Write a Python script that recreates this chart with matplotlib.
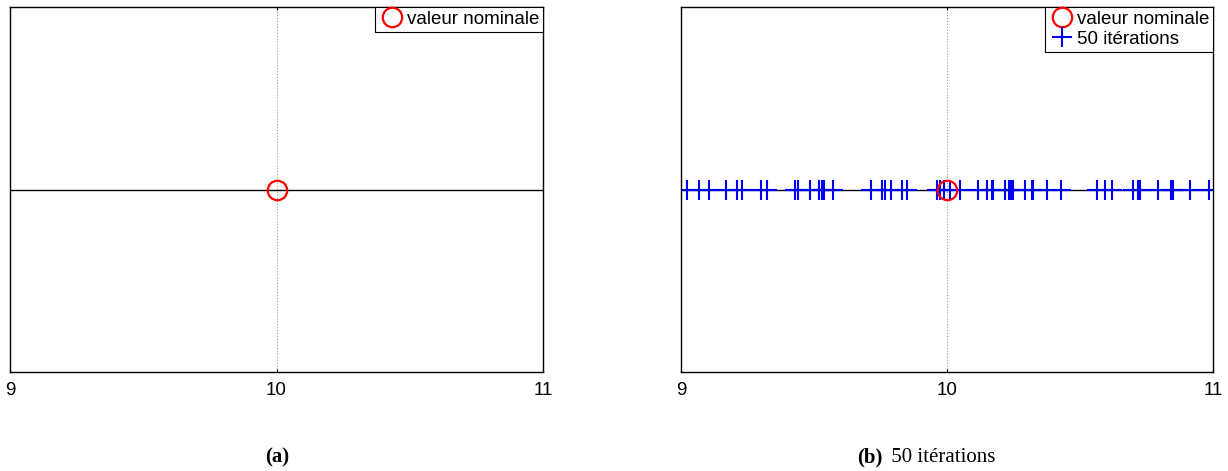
import matplotlib

matplotlib.use("Agg")
import matplotlib.pyplot as plt
import numpy as np

nominal = 10.0
iterations = [
    9.024, 9.069, 9.106, 9.169, 9.209, 9.228, 9.322, 9.430, 9.440,
    9.485, 9.519, 9.529, 9.538, 9.573, 9.713, 9.757, 9.767, 9.830, 9.851,
    9.961, 9.974, 9.990, 10.010, 10.049, 10.118, 10.149, 10.168, 10.174,
    10.218, 10.233, 10.241, 10.249, 10.293, 10.318, 10.324, 10.375, 10.429,
    10.563, 10.594, 10.619, 10.700, 10.719, 10.726, 10.794, 10.842, 10.850,
    10.914, 10.985, 9.300, 9.790,
]
xticks = [9, 10, 11]

plt.rcParams["font.family"] = ["Liberation Sans", "DejaVu Sans"]

fig = plt.figure(figsize=(12.28, 4.71), dpi=100)
W, H = 1228, 471
ax_a = fig.add_axes([10 / W, 1 - 372 / H, 533 / W, 365 / H])
ax_b = fig.add_axes([681 / W, 1 - 372 / H, 532 / W, 365 / H])

legend_kw = dict(loc="upper right", borderaxespad=0, fontsize=13.5,
                 handlelength=1.4, handletextpad=0.1, borderpad=0.2,
                 labelspacing=0.15, fancybox=False, edgecolor="black",
                 framealpha=1)


def style_axis(ax):
    ax.set_xlim(9, 11)
    ax.set_ylim(-1, 1)
    ax.set_xticks(xticks)
    ax.set_xticklabels([str(t) for t in xticks], fontsize=13.5)
    ax.set_yticks([])
    ax.tick_params(axis="x", direction="in", length=2.5, top=True, pad=7)
    ax.axvline(nominal, color="#a0a0a0", linestyle=":", linewidth=0.8, zorder=0)
    ax.axhline(0, color="black", linewidth=1.0, zorder=1)
    for s in ax.spines.values():
        s.set_linewidth(1.0)


# (a) nominal value only
style_axis(ax_a)
ax_a.plot([nominal], [0], "o", mfc="none", mec="red", ms=14, mew=1.6,
          label="valeur nominale", zorder=3)
leg = ax_a.legend(**legend_kw)
leg.get_frame().set_linewidth(0.8)

# (b) 50 iterations
style_axis(ax_b)
ax_b.plot([nominal], [0], "o", mfc="none", mec="red", ms=14, mew=1.6,
          label="valeur nominale", zorder=3)
ax_b.plot(iterations, np.zeros(len(iterations)), "+", color="blue", ms=14,
          mew=1.5, linestyle="none", label="50 itérations", zorder=2)
leg = ax_b.legend(**legend_kw)
leg.get_frame().set_linewidth(0.8)

# captions
fig.text(277 / W, 1 - 457 / H, "(a)", ha="center", va="center",
         family="Liberation Serif", fontweight="bold", fontsize=15)
fig.text(882 / W, 1 - 457 / H, "(b)", ha="right", va="center",
         family="Liberation Serif", fontweight="bold", fontsize=15)
fig.text(886 / W, 1 - 457 / H, " 50 itérations", ha="left", va="center",
         family="Liberation Serif", fontsize=15)

fig.savefig("out.png", dpi=100)
